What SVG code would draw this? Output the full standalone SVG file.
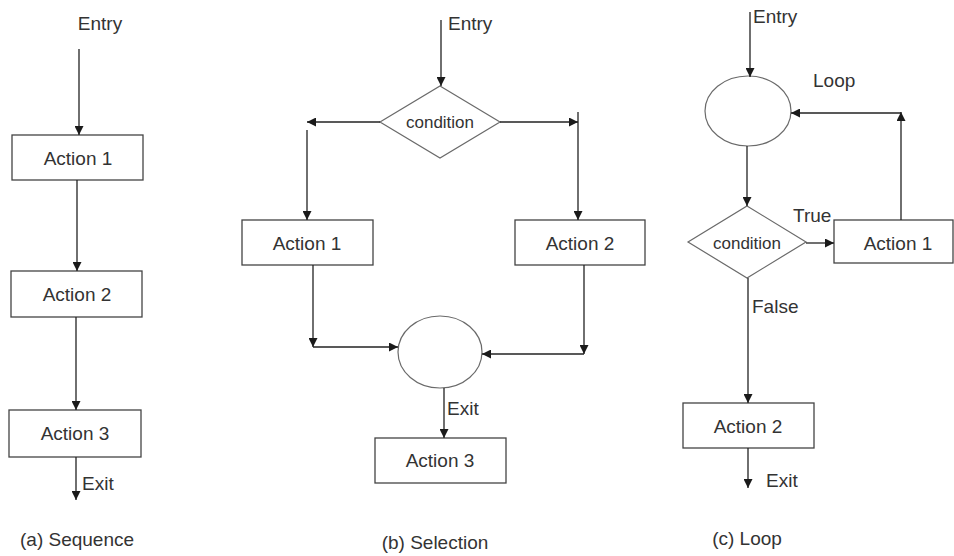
<svg xmlns="http://www.w3.org/2000/svg" width="954" height="556" viewBox="0 0 954 556">
  <defs>
    <marker id="arrow" viewBox="0 0 10 10" refX="10" refY="5" markerWidth="9" markerHeight="9" markerUnits="userSpaceOnUse" orient="auto">
      <path d="M0,0 L10,5 L0,10 Z" fill="#1a1a1a"/>
    </marker>
    <style>
      .box { fill: #ffffff; stroke: #444444; stroke-width: 1.3; }
      .shape { fill: #ffffff; stroke: #6a6a6a; stroke-width: 1.2; }
      .edge { fill: none; stroke: #222222; stroke-width: 1.3; }
      .arr { marker-end: url(#arrow); }
      text { font-family: "Liberation Sans", Arial, sans-serif; fill: #333333; font-size: 19px; }
      .mid { text-anchor: middle; dominant-baseline: central; }
      .cond { font-size: 17px; }
    </style>
  </defs>
  <rect width="954" height="556" fill="#ffffff"/>

  <!-- (a) Sequence -->
  <g id="seq-entry"><text x="100" y="30" text-anchor="middle">Entry</text></g>
  <g id="seq-action1"><rect class="box" x="12" y="135" width="131" height="45"/><text class="mid" x="78" y="158">Action 1</text></g>
  <g id="seq-action2"><rect class="box" x="11" y="271" width="131" height="46"/><text class="mid" x="77" y="294">Action 2</text></g>
  <g id="seq-action3"><rect class="box" x="9" y="410" width="132" height="47"/><text class="mid" x="75" y="433">Action 3</text></g>
  <g id="seq-exit"><text x="82" y="490">Exit</text></g>
  <g id="seq-caption"><text x="20" y="546">(a) Sequence</text></g>

  <!-- (b) Selection -->
  <g id="sel-entry"><text x="448" y="30">Entry</text></g>
  <g id="sel-condition"><polygon class="shape" points="440,86 500,122 440,158 380,122"/><text class="mid cond" x="440" y="122">condition</text></g>
  <g id="sel-action1"><rect class="box" x="242" y="220" width="131" height="45"/><text class="mid" x="307" y="243">Action 1</text></g>
  <g id="sel-action2"><rect class="box" x="515" y="220" width="130" height="45"/><text class="mid" x="580" y="243">Action 2</text></g>
  <g id="sel-join"><ellipse class="shape" cx="440" cy="352" rx="42" ry="36"/></g>
  <g id="sel-exit"><text x="447" y="415">Exit</text></g>
  <g id="sel-action3"><rect class="box" x="375" y="438" width="131" height="45"/><text class="mid" x="440" y="460">Action 3</text></g>
  <g id="sel-caption"><text x="435" y="549" text-anchor="middle">(b) Selection</text></g>

  <!-- (c) Loop -->
  <g id="loop-entry"><text x="753" y="23">Entry</text></g>
  <g id="loop-join"><ellipse class="shape" cx="748" cy="111" rx="43" ry="35"/></g>
  <g id="loop-label"><text x="813" y="87">Loop</text></g>
  <g id="loop-condition"><polygon class="shape" points="747,206 806,242 747,278 688,242"/><text class="mid cond" x="747" y="243">condition</text></g>
  <g id="loop-true"><text x="793" y="222">True</text></g>
  <g id="loop-action1"><rect class="box" x="834" y="220" width="119" height="43"/><text class="mid" x="898" y="243">Action 1</text></g>
  <g id="loop-false"><text x="752" y="313">False</text></g>
  <g id="loop-action2"><rect class="box" x="683" y="403" width="131" height="45"/><text class="mid" x="748" y="426">Action 2</text></g>
  <g id="loop-exit"><text x="766" y="487">Exit</text></g>
  <g id="loop-caption"><text x="747" y="545" text-anchor="middle">(c) Loop</text></g>

  <!-- connectors -->
  <g id="connectors">
    <!-- sequence -->
    <line class="edge arr" x1="79" y1="49" x2="79" y2="135"/>
    <line class="edge arr" x1="77" y1="180" x2="77" y2="271"/>
    <line class="edge arr" x1="76" y1="317" x2="76" y2="410"/>
    <line class="edge arr" x1="76" y1="457" x2="76" y2="500"/>
    <!-- selection -->
    <line class="edge arr" x1="441" y1="20" x2="441" y2="86"/>
    <line class="edge arr" x1="380" y1="122" x2="307" y2="122"/>
    <line class="edge arr" x1="307" y1="130" x2="307" y2="220"/>
    <line class="edge arr" x1="500" y1="122" x2="578" y2="122"/>
    <line class="edge arr" x1="578" y1="112" x2="578" y2="220"/>
    <line class="edge arr" x1="313" y1="265" x2="313" y2="347"/>
    <line class="edge arr" x1="313" y1="347" x2="398" y2="347"/>
    <line class="edge arr" x1="584" y1="265" x2="584" y2="354"/>
    <line class="edge arr" x1="584" y1="354" x2="482" y2="354"/>
    <line class="edge arr" x1="444" y1="388" x2="444" y2="438"/>
    <!-- loop -->
    <line class="edge arr" x1="750" y1="12" x2="750" y2="77"/>
    <line class="edge arr" x1="747" y1="146" x2="747" y2="206"/>
    <line class="edge arr" x1="806" y1="243" x2="834" y2="243"/>
    <line class="edge arr" x1="901" y1="220" x2="901" y2="112"/>
    <line class="edge arr" x1="901" y1="113" x2="791" y2="113"/>
    <line class="edge arr" x1="748" y1="278" x2="748" y2="403"/>
    <line class="edge arr" x1="748" y1="448" x2="748" y2="488"/>
  </g>
</svg>
